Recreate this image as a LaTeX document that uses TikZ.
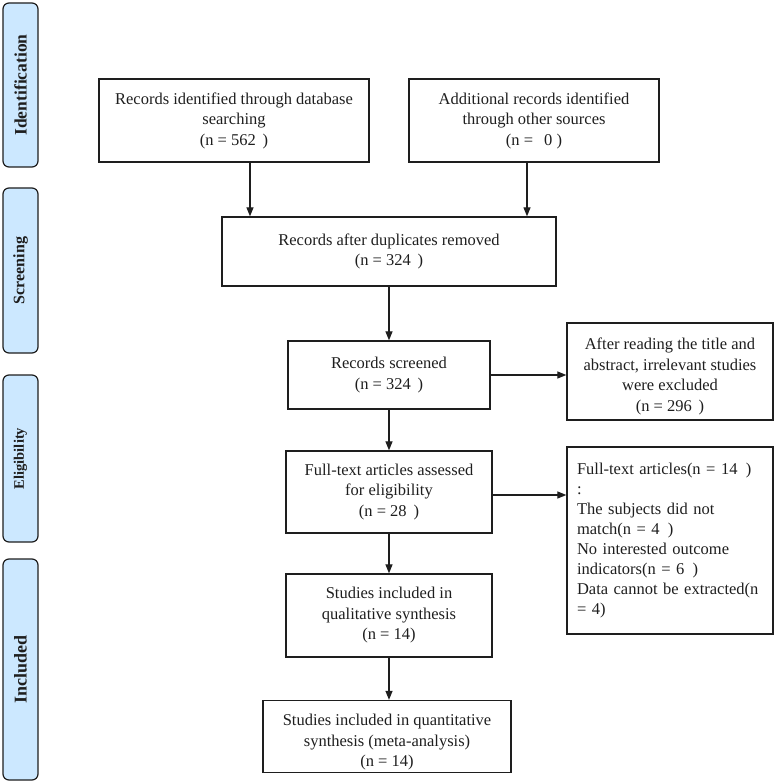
\documentclass[tikz,border=0pt]{standalone}
\usepackage{fontspec}
\setmainfont{Liberation Serif}
\usetikzlibrary{arrows.meta}
\definecolor{tabblue}{RGB}{204,232,255}
\definecolor{ink}{RGB}{30,30,30}
\begin{document}
\begin{tikzpicture}[x=1pt,y=-1pt,
  box/.style={draw=ink, line width=1.3pt, align=center, inner sep=2pt,
    font=\fontsize{16.5}{20.5}\selectfont, text=ink},
  txt/.style={align=center, inner sep=0pt, font=\fontsize{16.5}{20.5}\selectfont, text=ink},
  tab/.style={draw=ink, line width=1.2pt, fill=tabblue, rounded corners=6pt,
    rotate=90, minimum height=35pt, inner sep=0pt, text=ink},
  arr/.style={-{Triangle[length=9pt,width=7pt]}, line width=1.2pt, draw=ink}]
\useasboundingbox (0,0) rectangle (777,783);

% side tabs
\node[tab, minimum width=164pt, font=\fontsize{17.5}{20}\selectfont\bfseries] (tid) at (20.5,85) {Identification};
\node[tab, minimum width=165pt, font=\fontsize{16}{20}\selectfont\bfseries] (tsc) at (20.5,270.5) {Screening};
\node[tab, minimum width=167pt, font=\fontsize{14.5}{20}\selectfont\bfseries] (tel) at (20.5,458.5) {Eligibility};
\node[tab, minimum width=221pt, font=\fontsize{18}{20}\selectfont\bfseries] (tin) at (20.5,669.5) {Included};

% boxes
\node[box, minimum width=270pt, minimum height=83pt] (b1) at (234,120.5)
  {Records identified through database\\searching\\(n = 562 \,)};
\node[box, minimum width=250pt, minimum height=83pt] (b2) at (534,120.5)
  {Additional records identified\\through other sources\\(n = \, 0 )};
\node[box, minimum width=334pt, minimum height=69pt] (dup) at (389,251.5)
  {Records after duplicates removed\\(n = 324 \,)};
\node[box, minimum width=202pt, minimum height=68pt] (scr) at (389,375)
  {Records screened\\(n = 324 \,)};
\node[box, minimum width=206pt, minimum height=97pt] (exc) at (670,371.5) {};
\node[txt] (exctxt) at ([yshift=-5pt]exc.center)
  {After reading the title and\\abstract, irrelevant studies\\were excluded\\(n = 296 \,)};
\node[box, minimum width=206pt, minimum height=82pt] (ft) at (389,492)
  {Full-text articles assessed\\for eligibility\\(n = 28 \,)};
\node[box, align=left, text width=186pt, inner xsep=10pt, minimum width=206pt, minimum height=187pt,
  font=\fontsize{16.5}{20}\selectfont] (rsn) at (670,540.5)
  {Full-text articles(n = 14 \,)\\:\\The subjects did not\\match(n = 4 \,)\\No interested outcome\\indicators(n = 6 \,)\\Data cannot be extracted(n\\= 4)};
\node[box, minimum width=206pt, minimum height=83pt] (qual) at (389,615.5)
  {Studies included in\\qualitative synthesis\\(n = 14)};
\node[box, minimum width=248pt, minimum height=72pt] (quant) at (387,736.5) {};
\node[txt] (quanttxt) at ([yshift=-6pt]quant.center)
  {Studies included in quantitative\\synthesis (meta-analysis)\\(n = 14)};

% connectors
\draw[arr] ([xshift=16pt]b1.south) -- ([xshift=16pt]b1.south |- dup.north);
\draw[arr] ([xshift=-7pt]b2.south) -- ([xshift=-7pt]b2.south |- dup.north);
\draw[arr] (dup.south) -- (scr.north);
\draw[arr] (scr.east) -- (scr.east -| exc.west);
\draw[arr] (scr.south) -- (ft.north);
\draw[arr] ([yshift=-3pt]ft.east) -- ([yshift=-3pt]ft.east -| rsn.west);
\draw[arr] (ft.south) -- (qual.north);
\draw[arr] (qual.south) -- (qual.south |- quant.north);
\end{tikzpicture}
\end{document}
